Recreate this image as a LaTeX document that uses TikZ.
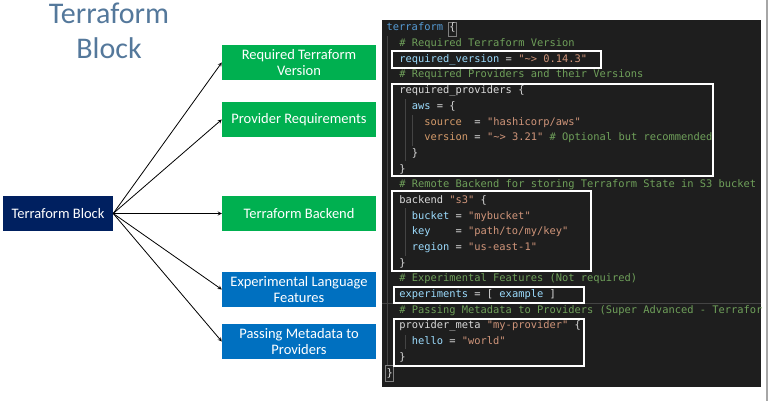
\documentclass[tikz,border=0pt]{standalone}
\usepackage{fontspec}
\setmainfont{Carlito}
\setmonofont{DejaVu Sans Mono}
\usetikzlibrary{positioning}

\definecolor{titleblue}{HTML}{54789B}
\definecolor{navy}{HTML}{002060}
\definecolor{tfgreen}{HTML}{00B050}
\definecolor{tfblue}{HTML}{0070C0}
\definecolor{codebg}{HTML}{1E1E1E}
\definecolor{cmtgreen}{HTML}{6FA05A}
\definecolor{strorange}{HTML}{D0957A}
\definecolor{argorange}{HTML}{D39A6A}
\definecolor{keyblue}{HTML}{9CDCFE}
\definecolor{kwblue}{HTML}{569CD6}
\definecolor{codegray}{HTML}{DADADA}
\definecolor{guide}{HTML}{444444}

\newcommand{\tfcmt}[1]{\textcolor{cmtgreen}{#1}}
\newcommand{\tfstr}[1]{\textcolor{strorange}{#1}}
\newcommand{\tfarg}[1]{\textcolor{argorange}{#1}}
\newcommand{\tfkey}[1]{\textcolor{keyblue}{#1}}
\newcommand{\tfkw}[1]{\textcolor{kwblue}{#1}}

\tikzset{
  >=stealth,
  title/.style={anchor=base, text=titleblue, font=\fontsize{30}{35}\selectfont},
  block/.style={minimum width=154pt, minimum height=35pt, inner sep=0pt, align=center,
    text=white, font=\fontsize{14.5}{16.5}\selectfont},
  code/.style={anchor=base west, inner sep=0pt, text=codegray,
    font=\ttfamily\fontsize{10.4}{12}\selectfont},
  hilite/.style={draw=white, line width=2pt},
}

\begin{document}
\begin{tikzpicture}[x=1pt, y=-1pt]
\useasboundingbox (0,0) rectangle (768,401);
% title
\node[title] (ttl1) at (109,23.5) {Terraform};
\node[title] (ttl2) at (109,58.5) {Block};
% blocks
\node[block, fill=navy, minimum width=110pt] (tb) at (58,213.5) {Terraform Block};
\node[block, fill=tfgreen] (rtv) at (299,62.5) {Required Terraform\\Version};
\node[block, fill=tfgreen] (prq) at (299,119.5) {Provider Requirements};
\node[block, fill=tfgreen] (tbk) at (299,213.5) {Terraform Backend};
\node[block, fill=tfblue] (elf) at (299,289.5) {Experimental Language\\Features};
\node[block, fill=tfblue] (pmp) at (299,341.5) {Passing Metadata to\\Providers};
\draw[->, line width=0.8pt] (tb.east) -- (rtv.west);
\draw[->, line width=0.8pt] (tb.east) -- (prq.west);
\draw[->, line width=0.8pt] (tb.east) -- (tbk.west);
\draw[->, line width=0.8pt] (tb.east) -- (elf.west);
\draw[->, line width=0.8pt] (tb.east) -- (pmp.west);
% code panel
\fill[codebg] (382,20) rectangle (761,387);
\draw[line width=2pt, color=gray!70] (767,0) -- (767,401);
\draw[guide, line width=0.6pt] (382,303) -- (761,303);
\draw[guide, line width=1pt] (387.5,36) -- (387.5,366);
\draw[guide, line width=1pt] (405.5,99) -- (405.5,161);
\draw[guide, line width=1pt] (412.5,115) -- (412.5,146);
\draw[guide, line width=1pt] (405.5,208) -- (405.5,256);
\draw[guide, line width=1pt] (405.5,335) -- (405.5,349);
\draw[gray, line width=0.8pt] (448.5,22) rectangle (456,36);
\draw[gray, line width=0.8pt] (385.5,365) rectangle (393,381);
\node[code] (l0) at (386.5,31) {\tfkw{terraform} \{};
\node[code] (l1) at (399.1,46.7) {\tfcmt{\# Required Terraform Version}};
\node[code] (l2) at (399.1,62.4) {\tfkey{required\_version} = \tfstr{"\textasciitilde> 0.14.3"}};
\node[code] (l3) at (399.1,78) {\tfcmt{\# Required Providers and their Versions}};
\node[code] (l4) at (399.1,93.7) {required\_providers \{};
\node[code] (l5) at (411.6,109.4) {\tfkey{aws} = \{};
\node[code] (l6) at (424.2,125.1) {\tfarg{source}~~= \tfstr{"hashicorp/aws"}};
\node[code] (l7) at (424.2,140.8) {\tfarg{version} = \tfstr{"\textasciitilde> 3.21"} \tfcmt{\# Optional but recommended}};
\node[code] (l8) at (411.6,156.4) {\}};
\node[code] (l9) at (399.1,172.1) {\}};
\node[code] (l10) at (399.1,187.8) {\tfcmt{\# Remote Backend for storing Terraform State in S3 bucket}};
\node[code] (l11) at (399.1,203.5) {backend \tfstr{"s3"} \{};
\node[code] (l12) at (411.6,219.2) {\tfkey{bucket} = \tfstr{"mybucket"}};
\node[code] (l13) at (411.6,234.8) {\tfkey{key}~~~~= \tfstr{"path/to/my/key"}};
\node[code] (l14) at (411.6,250.5) {\tfkey{region} = \tfstr{"us-east-1"}};
\node[code] (l15) at (399.1,266.2) {\}};
\node[code] (l16) at (399.1,281.9) {\tfcmt{\# Experimental Features (Not required)}};
\node[code] (l17) at (399.1,297.6) {\tfkey{experiments} = [ \tfkey{example} ]};
\node[code] (l18) at (399.1,313.2) {\tfcmt{\# Passing Metadata to Providers (Super Advanced - Terrafor}};
\node[code] (l19) at (399.1,328.9) {provider\_meta \tfstr{"my-provider"} \{};
\node[code] (l20) at (411.6,344.6) {\tfkey{hello} = \tfstr{"world"}};
\node[code] (l21) at (399.1,360.3) {\}};
\node[code] (l22) at (386.5,376) {\}};
% highlight frames
\draw[hilite] (392,51) rectangle (601,68);
\draw[hilite] (392,84) rectangle (713,176);
\draw[hilite] (392,191) rectangle (591,271);
\draw[hilite] (394,287) rectangle (584,303);
\draw[hilite] (394,319) rectangle (584,366);
\end{tikzpicture}
\end{document}
